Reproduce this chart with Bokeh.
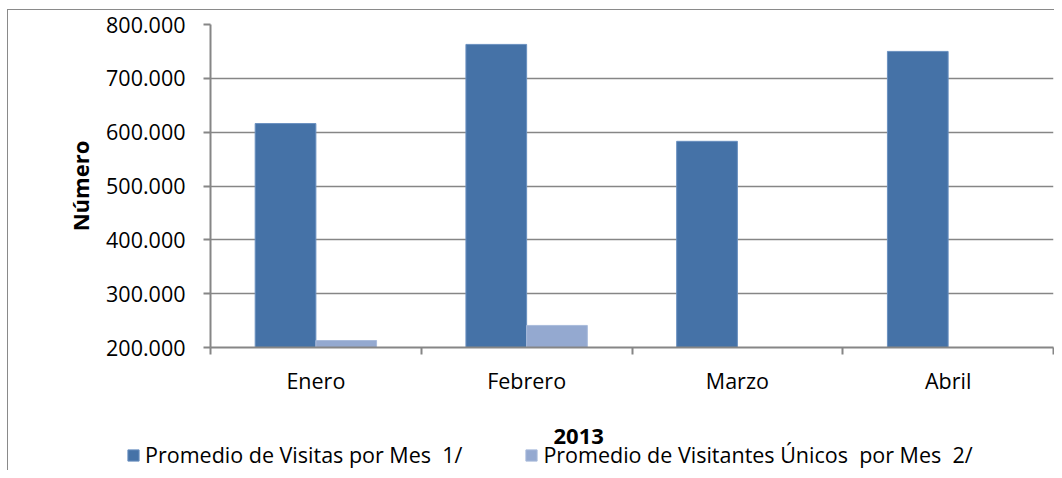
import numpy as np
from bokeh.plotting import figure
from bokeh.layouts import column, row
from bokeh.models import Range1d, FixedTicker, Legend, LegendItem, Label
from bokeh.embed import file_html
from bokeh.resources import INLINE

# ---- data ----
months = ["Enero", "Febrero", "Marzo", "Abril"]
visitas = [616000, 763000, 583000, 750000]
visitantes_unicos = [213000, 241000, 199000, float("nan")]
y_ticks = [200000, 300000, 400000, 500000, 600000, 700000, 800000]
y_tick_labels = ["200.000", "300.000", "400.000", "500.000", "600.000", "700.000", "800.000"]
series_names = ["Promedio de Visitas por Mes  1/", "Promedio de Visitantes Únicos  por Mes  2/"]
x_title = "2013"
y_title = "Número"

DARK = "#4572A7"
LIGHT = "#94A9D0"
DARK_EDGE = "#6a90c0"
LIGHT_EDGE = "#a9bbdb"
GRAY = "#868686"
BORDER = "#8a8a8a"
FONT = "Open Sans"
FS = "21.5px"
W = 1054

Y_MIN, Y_MAX = y_ticks[0], y_ticks[-1]
n = len(months)
centers = np.arange(n) + 0.5
off = 0.144
bw = 0.288

p = figure(width=W, height=400, output_backend="svg", toolbar_location=None,
           x_range=Range1d(0, n), y_range=Range1d(Y_MIN, Y_MAX),
           min_border_left=210, min_border_right=1, min_border_top=24, min_border_bottom=53)
p.outline_line_color = None
p.background_fill_color = "white"
p.border_fill_alpha = 0

r1 = p.vbar(x=centers - off, width=bw, top=visitas, bottom=Y_MIN,
            fill_color=DARK, line_color=DARK_EDGE, line_width=1)
r2 = p.vbar(x=centers + off, width=bw, top=visitantes_unicos, bottom=Y_MIN,
            fill_color=LIGHT, line_color=LIGHT_EDGE, line_width=1)

# x axis
xa = p.xaxis[0]
xa.ticker = FixedTicker(ticks=list(centers), minor_ticks=list(range(n + 1)))
xa.major_label_overrides = {float(c): m for c, m in zip(centers, months)}
xa.major_tick_line_color = None
xa.major_tick_out = 0
xa.major_tick_in = 0
xa.minor_tick_line_color = GRAY
xa.minor_tick_line_width = 2
xa.minor_tick_out = 7
xa.minor_tick_in = 0
xa.axis_line_color = GRAY
xa.axis_line_width = 2
xa.major_label_text_font = FONT
xa.major_label_text_font_size = FS
xa.major_label_text_color = "black"
xa.major_label_standoff = 11

# y axis
ya = p.yaxis[0]
ya.ticker = FixedTicker(ticks=y_ticks, minor_ticks=[])
ya.major_label_overrides = {t: l for t, l in zip(y_ticks, y_tick_labels)}
ya.major_tick_line_color = GRAY
ya.major_tick_line_width = 2
ya.major_tick_out = 7
ya.major_tick_in = 0
ya.minor_tick_line_color = None
ya.axis_line_color = GRAY
ya.axis_line_width = 2
ya.major_label_text_font = FONT
ya.major_label_text_font_size = FS
ya.major_label_text_color = "black"
ya.major_label_standoff = 18
ya.axis_label = y_title
ya.axis_label_text_font = FONT
ya.axis_label_text_font_size = "22px"
ya.axis_label_text_font_style = "bold"
ya.axis_label_text_color = "black"
ya.axis_label_standoff = 8

p.xgrid.grid_line_color = None
p.ygrid.grid_line_color = GRAY
p.ygrid.grid_line_width = 1.5

# ---- bottom strip: axis title "2013" and legend ----
H2 = 70
q = figure(width=W, height=H2, output_backend="svg", toolbar_location=None,
           x_range=Range1d(0, W), y_range=Range1d(0, H2),
           x_axis_location=None, y_axis_location=None,
           min_border=0, min_border_left=0, min_border_right=0,
           min_border_top=0, min_border_bottom=0)
q.grid.visible = False
q.outline_line_color = None
q.background_fill_alpha = 0
q.border_fill_alpha = 0

# legend swatches (a single off-range placeholder bar each, only used by the legend)
l1 = q.vbar(x=[-100], top=[-100], bottom=[-101], width=1, fill_color=DARK, line_color=DARK_EDGE)
l2 = q.vbar(x=[-100], top=[-100], bottom=[-101], width=1, fill_color=LIGHT, line_color=LIGHT_EDGE)

q.add_layout(Label(x=553, y=34, x_units="screen", y_units="screen", text=x_title,
                   text_font=FONT, text_font_size="22px", text_font_style="bold",
                   text_color="black", text_align="left", text_baseline="alphabetic"))

legend = Legend(items=[LegendItem(label=series_names[0], renderers=[l1]),
                       LegendItem(label=series_names[1], renderers=[l2])],
                location=(126, 1), orientation="horizontal",
                padding=0, margin=0, spacing=62, label_standoff=5,
                glyph_width=14, glyph_height=14,
                label_text_font=FONT, label_text_font_size=FS, label_text_color="black",
                border_line_color=None, background_fill_alpha=0)
q.add_layout(legend, "center")

layout = column(p, row(q), spacing=0)
layout.styles = {
    "background": (f"linear-gradient({BORDER},{BORDER}) 7px 9px / 1px 100% no-repeat, "
                   f"linear-gradient({BORDER},{BORDER}) 7px 9px / 100% 1px no-repeat, white"),
}

open("out.html", "w").write(file_html(layout, INLINE))
